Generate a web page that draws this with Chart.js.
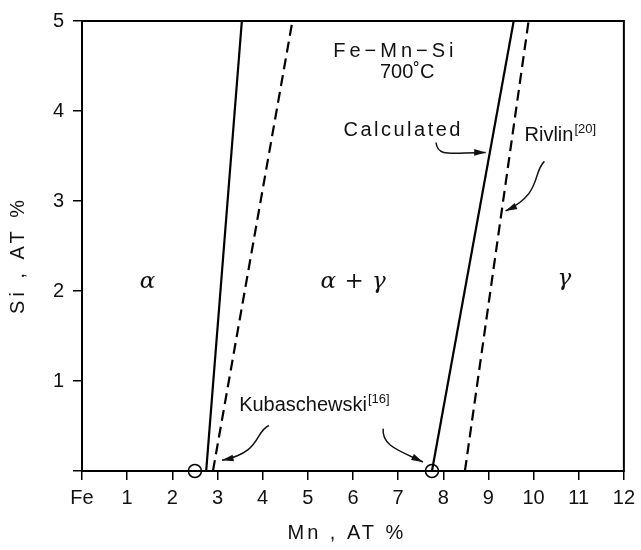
<!DOCTYPE html>
<html>
<head>
<meta charset="utf-8">
<script src="https://cdn.jsdelivr.net/npm/chart.js@4.4.1/dist/chart.umd.min.js"></script>
<style>
html,body{margin:0;padding:0;background:#fff}
#wrap{width:641px;height:550px}
</style>
</head>
<body>
<div id="wrap"><canvas id="myChart" width="641" height="550"></canvas></div>
<script>
// phase boundaries, Mn (x) vs Si (y), AT %
const calcAlpha=[{x:2.75,y:0},{x:3.54,y:5}]
const rivlinAlpha=[{x:2.9,y:0},{x:4.66,y:5}]
const calcGamma=[{x:7.75,y:0},{x:9.56,y:5}]
const rivlinGamma=[{x:8.48,y:0},{x:9.89,y:5}]
const kubaPoints=[{x:2.5,y:0},{x:7.75,y:0}]

const xTickLabels=['Fe','1','2','3','4','5','6','7','8','9','10','11','12']
const yTickLabels=['','1','2','3','4','5']

// text notes: [text, sup, x, y, align, font, letter spacing]
const notes=[
    ['Fe\u2212Mn\u2212Si','',6.94,4.66,'center','20px','4px'],
    ['700\u02daC','',7.2,4.43,'center','20px','0px'],
    ['Calculated','',5.79,3.78,'left','20px','2.5px'],
    ['Rivlin','[20]',9.8,3.73,'left','20px','0px'],
    ['Kubaschewski','[16]',3.48,0.725,'left','20px','0px'],
    ['\u03b1','',1.45,2.1,'center','greek','0px'],
    ['\u03b1 + \u03b3','',6.01,2.1,'center','greek','0.5px'],
    ['\u03b3','',10.68,2.13,'center','greek','0px'],
]
// curved arrows: start, control1, control2, end (data units)
const arrows=[
    [[7.84,3.65],[7.87,3.48],[8.2,3.54],[8.94,3.54]],
    [[10.24,3.44],[9.97,3.31],[10.19,3.08],[9.38,2.89]],
    [[4.14,0.505],[3.81,0.43],[3.99,0.21],[3.1,0.12]],
    [[6.67,0.47],[6.63,0.286],[7.0,0.23],[7.55,0.1]],
]

const FONT='"Liberation Sans", Arial, Helvetica, sans-serif'

const extras={
    id:'extras',
    afterDatasetsDraw(chart){
        const c=chart.ctx, a=chart.chartArea
        const sx=chart.scales.x, sy=chart.scales.y
        const px=v=>sx.getPixelForValue(v), py=v=>sy.getPixelForValue(v)
        c.save()
        c.strokeStyle='#000'
        c.lineWidth=2
        c.strokeRect(a.left,a.top,a.right-a.left,a.bottom-a.top)

        c.fillStyle='#111'
        c.textBaseline='middle'
        notes.forEach(([t,sup,x,y,align,f,ls])=>{
            c.textAlign=align
            c.letterSpacing=ls
            c.font=f==='greek'?'italic 23px "DejaVu Serif", serif':f+' '+FONT
            const X=px(x), Y=py(y)
            c.fillText(t,X,Y)
            if(sup){
                const w=c.measureText(t).width
                c.font='13px '+FONT
                c.textAlign='left'
                c.fillText(sup,X+w+1,Y-6)
            }
        })

        c.lineWidth=1.5
        c.strokeStyle='#111'
        arrows.forEach(p=>{
            const q=p.map(([x,y])=>[px(x),py(y)])
            c.beginPath()
            c.moveTo(q[0][0],q[0][1])
            c.bezierCurveTo(q[1][0],q[1][1],q[2][0],q[2][1],q[3][0],q[3][1])
            c.stroke()
            const ang=Math.atan2(q[3][1]-q[2][1],q[3][0]-q[2][0])
            c.beginPath()
            c.moveTo(q[3][0],q[3][1])
            c.lineTo(q[3][0]-12*Math.cos(ang-0.28),q[3][1]-12*Math.sin(ang-0.28))
            c.lineTo(q[3][0]-12*Math.cos(ang+0.28),q[3][1]-12*Math.sin(ang+0.28))
            c.closePath()
            c.fill()
        })

        // axis titles
        c.font='20px '+FONT
        c.letterSpacing='3px'
        c.textAlign='center'
        c.fillText('Mn , AT %',(a.left+a.right)/2-6,533)
        c.letterSpacing='4px'
        c.translate(18,255)
        c.rotate(-Math.PI/2)
        c.fillText('Si , AT %',0,0)
        c.restore()
    }
}

const lineSet=(data,dash)=>({
    data,
    showLine:true,
    borderColor:'#000',
    borderWidth:2.2,
    borderDash:dash,
    pointRadius:0,
    fill:false,
})

const ctx=document.getElementById('myChart').getContext('2d')
new Chart(ctx,{
    type:'scatter',
    data:{
        datasets:[
            lineSet(calcAlpha,[]),
            lineSet(rivlinAlpha,[11,6]),
            lineSet(calcGamma,[]),
            lineSet(rivlinGamma,[11,6]),
            {
                data:kubaPoints,
                pointRadius:6.5,
                pointBackgroundColor:'#fff',
                pointBorderColor:'#000',
                pointBorderWidth:1.5,
                clip:false,
            },
        ]
    },
    options:{
        responsive:false,
        animation:false,
        devicePixelRatio:1,
        layout:{padding:{top:16,right:14,left:0,bottom:0}},
        plugins:{legend:{display:false},tooltip:{enabled:false}},
        scales:{
            x:{
                type:'linear',min:0,max:12,
                afterFit:s=>{s.height=79},
                border:{display:false},
                grid:{drawOnChartArea:false,color:'#000',lineWidth:1.5,tickLength:9},
                ticks:{stepSize:1,color:'#111',padding:6,font:{size:20,family:FONT},
                    maxRotation:0,autoSkip:false,
                    callback:v=>xTickLabels[v]},
            },
            y:{
                type:'linear',min:0,max:5,
                afterFit:s=>{s.width=82},
                border:{display:false},
                grid:{drawOnChartArea:false,color:'#000',lineWidth:1.5,tickLength:9},
                ticks:{stepSize:1,color:'#111',padding:9,font:{size:20,family:FONT},
                    callback:v=>yTickLabels[v]},
            },
        }
    },
    plugins:[extras]
})
</script>
</body>
</html>
